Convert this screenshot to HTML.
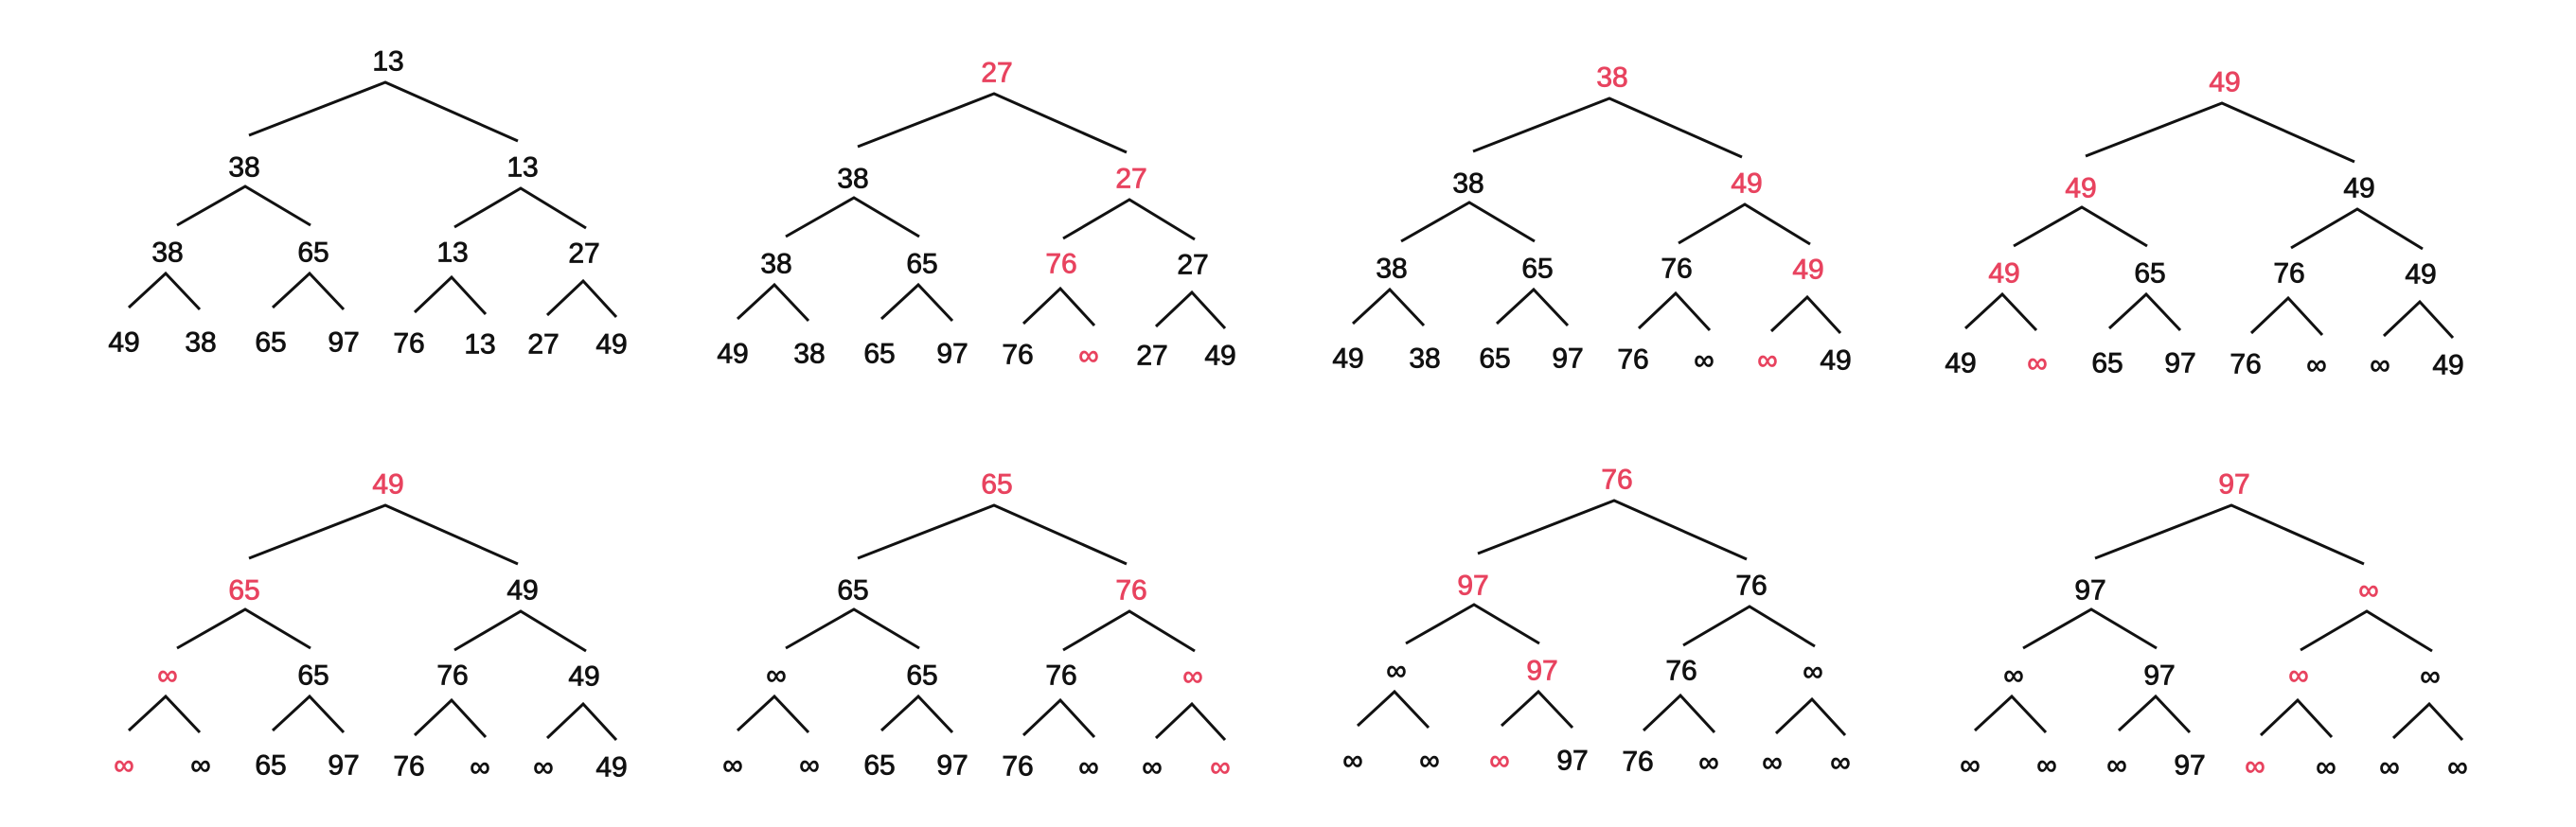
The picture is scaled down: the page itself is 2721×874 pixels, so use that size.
<!DOCTYPE html>
<html><head><meta charset="utf-8">
<style>
html,body{margin:0;padding:0;background:#fff;}
svg{display:block;}
text{font-family:"Liberation Sans",sans-serif;font-size:30px;}
</style></head>
<body>
<svg id="chart" width="2721" height="874" viewBox="0 0 2721 874" xmlns="http://www.w3.org/2000/svg"></svg>
<script>
// node values per tree: root, level1 (2), level2 (4), leaves (8)
const treeValues = [
  ["13","38","13","38","65","13","27","49","38","65","97","76","13","27","49"],
  ["27","38","27","38","65","76","27","49","38","65","97","76","∞","27","49"],
  ["38","38","49","38","65","76","49","49","38","65","97","76","∞","∞","49"],
  ["49","49","49","49","65","76","49","49","∞","65","97","76","∞","∞","49"],
  ["49","65","49","∞","65","76","49","∞","∞","65","97","76","∞","∞","49"],
  ["65","65","76","∞","65","76","∞","∞","∞","65","97","76","∞","∞","∞"],
  ["76","97","76","∞","97","76","∞","∞","∞","∞","97","76","∞","∞","∞"],
  ["97","97","∞","∞","97","∞","∞","∞","∞","∞","97","∞","∞","∞","∞"]
];
// indices of highlighted (red) nodes per tree
const treeHighlights = [
  [],
  [0,2,5,12],
  [0,2,6,13],
  [0,1,3,8],
  [0,1,3,7],
  [0,2,6,14],
  [0,1,4,9],
  [0,2,5,11]
];

const svg = document.getElementById('chart');
const NS = 'http://www.w3.org/2000/svg';
// layout template (geometry, tree 1)
const labelPos = [[410,65],[258,177],[552,177],[177,267],[331,267],[478,267],[617,268],
  [131,362],[212,362],[286,362],[363,362],[432,363],[507,364],[574,364],[646,364]];
const edges = [
  [[407,87],[263,143],[547,149]],
  [[259,197],[187,238],[328,238]],
  [[550,199],[480,240],[619,241]],
  [[175,289],[136,325],[211,327]],
  [[327,289],[288,325],[363,327]],
  [[477,293],[438,330],[513,332]],
  [[616,297],[578,333],[651,335]]
];
const offsets = [[0,0],[643,12],[1293,17],[1940,22],[0,447],[643,447],[1298,442],[1950,447]];

treeValues.forEach((vals, t) => {
  const g = document.createElementNS(NS,'g');
  
  
  const [dx, dy] = offsets[t];
  g.setAttribute('transform', 'translate(' + dx + ',' + dy + ')');
  edges.forEach((e, i) => {
    const p = document.createElementNS(NS,'path');
    p.setAttribute('d', 'M' + e[1][0] + ',' + e[1][1] + ' L' + e[0][0] + ',' + e[0][1] + ' L' + e[2][0] + ',' + e[2][1]);
    p.setAttribute('fill','none');
    p.setAttribute('stroke','#111');
    p.setAttribute('stroke-width','3');
    
    
    g.appendChild(p);
  });
  vals.forEach((v, i) => {
    const tx = document.createElementNS(NS,'text');
    const col = treeHighlights[t].includes(i) ? '#e8435f' : '#111';
    tx.setAttribute('x', labelPos[i][0]);
    tx.setAttribute('y', labelPos[i][1]);
    tx.setAttribute('text-anchor','middle');
    tx.setAttribute('dominant-baseline','central');
    tx.setAttribute('fill', col);
    tx.setAttribute('stroke', col);
    tx.setAttribute('stroke-width', '0.8');
    if (v === '∞') tx.setAttribute('font-size','40');
    tx.textContent = v;
    
    
    g.appendChild(tx);
  });
  svg.appendChild(g);
});
</script>
</body></html>
